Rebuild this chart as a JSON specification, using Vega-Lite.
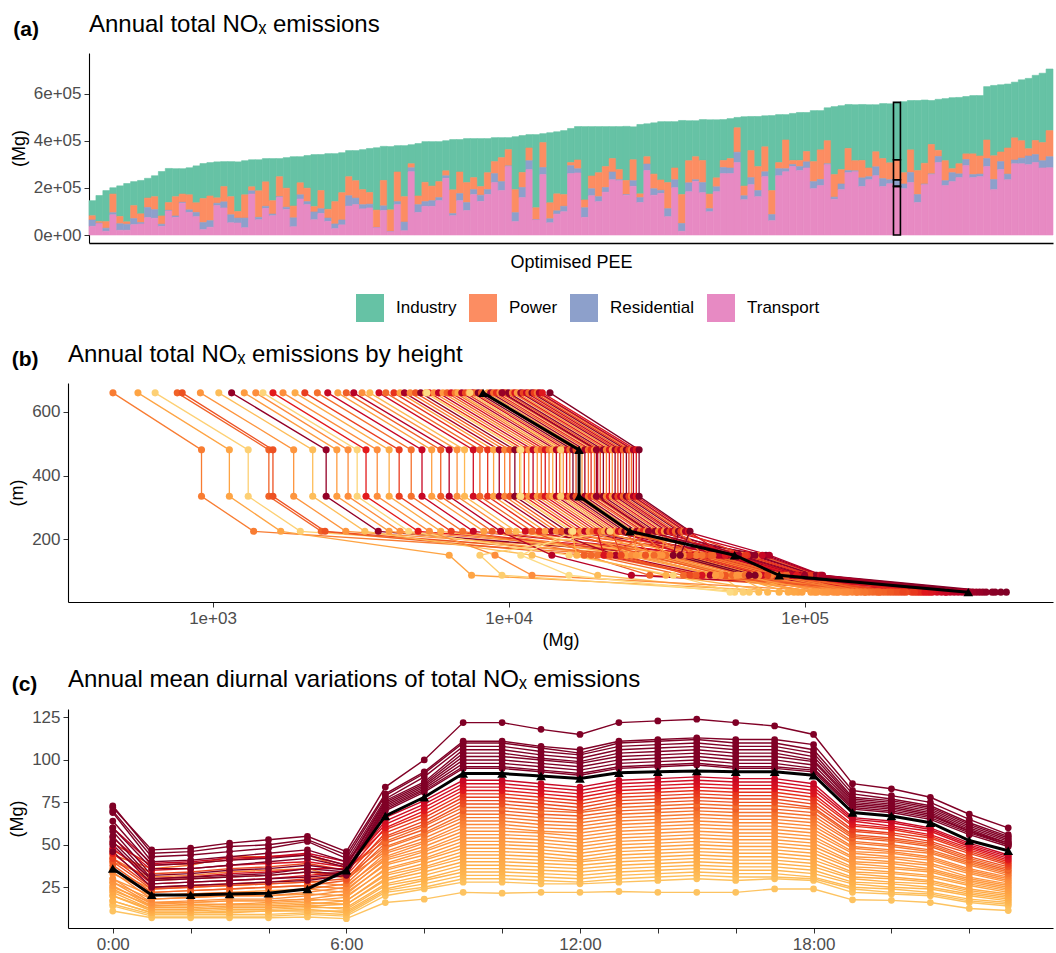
{
"$schema":"https://vega.github.io/schema/vega-lite/v6.json",
"padding":{"left":8,"top":13,"right":0,"bottom":0},
"config":{
 "font":"Liberation Sans",
 "view":{"stroke":null},
 "axis":{"grid":false,"domainColor":"#000000","domainWidth":1.1,"tickColor":"#333333","tickSize":5,"labelColor":"#4d4d4d","labelFontSize":17,"labelPadding":3,"titleFontSize":18,"titleFontWeight":"normal","titleColor":"#000000","titlePadding":5},
 "title":{"fontWeight":"normal","color":"#000000","fontSize":24}
},
"columns":1,
"spacing":21,
"resolve":{"scale":{"x":"independent","y":"independent","color":"independent","stroke":"independent"}},
"datasets":{
"bars":[
{"m":1,"I":64,"P":18,"R":27,"T":37},{"m":2,"I":111,"P":6,"R":3,"T":48},{"m":3,"I":132,"P":28,"R":13,"T":16},{"m":4,"I":27,"P":79,"R":9,"T":86},{"m":5,"I":130,"P":31,"R":28,"T":20},
{"m":6,"I":163,"P":10,"R":26,"T":20},{"m":7,"I":102,"P":55,"R":26,"T":44},{"m":8,"I":142,"P":37,"R":6,"T":47},{"m":9,"I":84,"P":40,"R":43,"T":74},{"m":10,"I":89,"P":55,"R":37,"T":71},
{"m":11,"I":189,"P":35,"R":9,"T":37},{"m":12,"I":145,"P":33,"R":3,"T":102},{"m":13,"I":119,"P":82,"R":6,"T":75},{"m":14,"I":108,"P":35,"R":4,"T":135},{"m":15,"I":115,"P":64,"R":11,"T":96},
{"m":16,"I":157,"P":41,"R":18,"T":78},{"m":17,"I":149,"P":102,"R":30,"T":23},{"m":18,"I":142,"P":105,"R":28,"T":33},{"m":19,"I":153,"P":23,"R":10,"T":125},{"m":20,"I":106,"P":65,"R":26,"T":115},
{"m":21,"I":149,"P":77,"R":34,"T":52},{"m":22,"I":211,"P":28,"R":21,"T":51},{"m":23,"I":145,"P":99,"R":41,"T":31},{"m":24,"I":115,"P":17,"R":14,"T":174},{"m":25,"I":132,"P":113,"R":10,"T":65},
{"m":26,"I":99,"P":104,"R":9,"T":113},{"m":27,"I":179,"P":57,"R":7,"T":82},{"m":28,"I":77,"P":85,"R":3,"T":160},{"m":29,"I":130,"P":81,"R":9,"T":109},{"m":30,"I":210,"P":50,"R":38,"T":35},
{"m":31,"I":111,"P":51,"R":18,"T":153},{"m":32,"I":139,"P":57,"R":13,"T":129},{"m":33,"I":221,"P":23,"R":33,"T":65},{"m":34,"I":153,"P":77,"R":21,"T":91},{"m":35,"I":237,"P":37,"R":14,"T":58},
{"m":36,"I":204,"P":95,"R":20,"T":27},{"m":37,"I":170,"P":116,"R":21,"T":43},{"m":38,"I":111,"P":81,"R":44,"T":123},{"m":39,"I":128,"P":74,"R":28,"T":129},{"m":40,"I":170,"P":64,"R":18,"T":111},
{"m":41,"I":187,"P":50,"R":16,"T":115},{"m":42,"I":265,"P":74,"R":1,"T":31},{"m":43,"I":145,"P":108,"R":20,"T":104},{"m":44,"I":269,"P":92,"R":1,"T":14},{"m":45,"I":112,"P":126,"R":13,"T":129},
{"m":46,"I":217,"P":108,"R":37,"T":18},{"m":47,"I":81,"P":17,"R":17,"T":269},{"m":48,"I":223,"P":37,"R":33,"T":96},{"m":49,"I":173,"P":82,"R":20,"T":122},{"m":50,"I":189,"P":62,"R":24,"T":122},
{"m":51,"I":170,"P":68,"R":13,"T":146},{"m":52,"I":128,"P":21,"R":11,"T":241},{"m":53,"I":214,"P":101,"R":9,"T":82},{"m":54,"I":138,"P":92,"R":30,"T":146},{"m":55,"I":187,"P":85,"R":34,"T":104},
{"m":56,"I":166,"P":51,"R":21,"T":172},{"m":57,"I":204,"P":37,"R":26,"T":143},{"m":58,"I":145,"P":72,"R":21,"T":172},{"m":59,"I":102,"P":51,"R":38,"T":223},{"m":60,"I":85,"P":102,"R":38,"T":189},
{"m":61,"I":51,"P":69,"R":3,"T":291},{"m":62,"I":225,"P":98,"R":38,"T":57},{"m":63,"I":157,"P":64,"R":43,"T":159},{"m":64,"I":57,"P":54,"R":38,"T":278},{"m":65,"I":311,"P":51,"R":1,"T":64},
{"m":66,"I":38,"P":106,"R":30,"T":257},{"m":67,"I":298,"P":68,"R":17,"T":52},{"m":68,"I":264,"P":72,"R":14,"T":89},{"m":69,"I":272,"P":50,"R":23,"T":99},{"m":70,"I":145,"P":13,"R":34,"T":261},
{"m":71,"I":142,"P":37,"R":18,"T":264},{"m":72,"I":312,"P":33,"R":41,"T":75},{"m":73,"I":210,"P":54,"R":30,"T":167},{"m":74,"I":196,"P":102,"R":21,"T":142},{"m":75,"I":170,"P":89,"R":20,"T":182},
{"m":76,"I":136,"P":57,"R":33,"T":235},{"m":77,"I":183,"P":43,"R":4,"T":231},{"m":78,"I":230,"P":60,"R":3,"T":169},{"m":79,"I":140,"P":89,"R":24,"T":207},{"m":80,"I":295,"P":16,"R":21,"T":138},
{"m":81,"I":140,"P":31,"R":28,"T":274},{"m":82,"I":218,"P":62,"R":28,"T":169},{"m":83,"I":248,"P":44,"R":13,"T":177},{"m":84,"I":259,"P":111,"R":34,"T":78},{"m":85,"I":197,"P":50,"R":34,"T":201},
{"m":86,"I":315,"P":123,"R":33,"T":16},{"m":87,"I":170,"P":94,"R":38,"T":184},{"m":88,"I":153,"P":98,"R":7,"T":228},{"m":89,"I":174,"P":94,"R":43,"T":180},{"m":90,"I":316,"P":62,"R":13,"T":99},
{"m":91,"I":247,"P":38,"R":21,"T":184},{"m":92,"I":174,"P":30,"R":26,"T":261},{"m":93,"I":170,"P":40,"R":24,"T":261},{"m":94,"I":44,"P":104,"R":44,"T":308},{"m":95,"I":295,"P":41,"R":17,"T":150},
{"m":96,"I":145,"P":115,"R":30,"T":214},{"m":97,"I":213,"P":102,"R":26,"T":163},{"m":98,"I":132,"P":106,"R":21,"T":248},{"m":99,"I":319,"P":102,"R":26,"T":61},{"m":100,"I":204,"P":26,"R":30,"T":252},
{"m":101,"I":108,"P":122,"R":13,"T":269},{"m":102,"I":200,"P":17,"R":9,"T":291},{"m":103,"I":204,"P":26,"R":17,"T":274},{"m":104,"I":166,"P":44,"R":26,"T":285},{"m":105,"I":217,"P":85,"R":30,"T":197},
{"m":106,"I":167,"P":126,"R":26,"T":210},{"m":107,"I":140,"P":98,"R":4,"T":299},{"m":108,"I":289,"P":96,"R":9,"T":152},{"m":109,"I":272,"P":61,"R":24,"T":193},{"m":110,"I":187,"P":94,"R":9,"T":265},
{"m":111,"I":238,"P":43,"R":4,"T":269},{"m":112,"I":238,"P":74,"R":37,"T":206},{"m":113,"I":269,"P":37,"R":13,"T":235},{"m":114,"I":200,"P":64,"R":38,"T":252},{"m":115,"I":234,"P":85,"R":34,"T":206},
{"m":116,"I":251,"P":72,"R":17,"T":218},{"m":117,"I":244,"P":85,"R":28,"T":207},{"m":118,"I":302,"P":48,"R":20,"T":197},{"m":119,"I":210,"P":96,"R":43,"T":223},{"m":120,"I":298,"P":102,"R":34,"T":138},
{"m":121,"I":269,"P":88,"R":3,"T":214},{"m":122,"I":187,"P":125,"R":3,"T":257},{"m":123,"I":217,"P":26,"R":26,"T":308},{"m":124,"I":264,"P":85,"R":21,"T":210},{"m":125,"I":302,"P":17,"R":38,"T":227},
{"m":126,"I":282,"P":43,"R":16,"T":244},{"m":127,"I":244,"P":24,"R":26,"T":295},{"m":128,"I":248,"P":88,"R":13,"T":244},{"m":129,"I":257,"P":77,"R":11,"T":248},{"m":130,"I":227,"P":79,"R":34,"T":291},
{"m":131,"I":299,"P":101,"R":43,"T":193},{"m":132,"I":286,"P":41,"R":34,"T":278},{"m":133,"I":272,"P":111,"R":24,"T":235},{"m":134,"I":237,"P":94,"R":16,"T":303},{"m":135,"I":259,"P":74,"R":24,"T":303},
{"m":136,"I":299,"P":31,"R":37,"T":299},{"m":137,"I":277,"P":60,"R":34,"T":308},{"m":138,"I":295,"P":77,"R":31,"T":285},{"m":139,"I":262,"P":111,"R":47,"T":286}
],
"hts":[{"k":"a","h":660},{"k":"b","h":481},{"k":"d","h":335},{"k":"w","h":225},{"k":"f","h":150},{"k":"e","h":87},{"k":"g","h":34}],
"prof":[
{"m":1,"c":0.55,"a":461,"b":918,"d":918,"w":1377,"f":24000,"e":42000,"g":150000},
{"m":2,"c":0.35,"a":560,"b":1140,"d":1140,"w":1700,"f":6300,"e":7500,"g":95000},
{"m":3,"c":0.1,"a":640,"b":1320,"d":1320,"w":1980,"f":31000,"e":52000,"g":62000},
{"m":4,"c":0.62,"a":760,"b":1550,"d":1550,"w":2330,"f":18000,"e":30000,"g":180000},
{"m":5,"c":0.66,"a":790,"b":1600,"d":1600,"w":2400,"f":27000,"e":60000,"g":210000},
{"m":6,"c":0.45,"a":910,"b":1880,"d":1880,"w":2820,"f":40000,"e":70000,"g":120000},
{"m":7,"c":0.2,"a":1050,"b":2180,"d":2180,"w":3270,"f":12000,"e":20000,"g":70000},
{"m":8,"c":0.95,"a":1160,"b":2420,"d":2420,"w":3630,"f":36000,"e":64000,"g":400000},
{"m":9,"c":0.4,"a":1280,"b":2630,"d":2630,"w":3950,"f":22000,"e":47000,"g":110000},
{"m":10,"c":0.5,"a":1400,"b":2870,"d":2870,"w":4300,"f":45000,"e":80000,"g":130000},
{"m":11,"c":0.08,"a":1480,"b":3080,"d":3080,"w":4600,"f":16000,"e":36000,"g":58000},
{"m":12,"c":0.75,"a":1600,"b":3300,"d":3300,"w":4950,"f":52000,"e":90000,"g":260000},
{"m":13,"c":0.5,"a":1730,"b":3600,"d":3600,"w":5400,"f":9000,"e":12000,"g":140000},
{"m":14,"c":0.3,"a":1900,"b":3950,"d":3950,"w":5900,"f":28000,"e":56000,"g":88000},
{"m":15,"c":0.7,"a":2050,"b":4270,"d":4270,"w":6400,"f":33000,"e":68000,"g":230000},
{"m":16,"c":0.58,"a":2260,"b":4690,"d":4690,"w":7000,"f":20000,"e":44000,"g":160000},
{"m":17,"c":0.82,"a":2450,"b":5100,"d":5100,"w":7600,"f":47000,"e":85000,"g":300000},
{"m":18,"c":0.38,"a":2650,"b":5500,"d":5500,"w":8250,"f":25000,"e":50000,"g":105000},
{"m":19,"c":0.63,"a":2830,"b":5900,"d":5900,"w":8800,"f":38000,"e":74000,"g":190000},
{"m":20,"c":0.86,"a":3000,"b":6300,"d":6300,"w":9400,"f":14000,"e":26000,"g":330000},
{"m":21,"c":0.48,"a":3200,"b":6700,"d":6700,"w":10000,"f":56000,"e":98000,"g":125000},
{"m":22,"c":0.22,"a":3400,"b":7100,"d":7100,"w":10600,"f":30000,"e":58000,"g":75000},
{"m":23,"c":0.8,"a":3650,"b":7600,"d":7600,"w":11400,"f":42000,"e":76000,"g":280000},
{"m":24,"c":0.6,"a":3850,"b":8000,"d":8000,"w":12000,"f":19000,"e":39000,"g":170000},
{"m":25,"c":0.72,"a":4100,"b":8500,"d":8500,"w":12700,"f":61000,"e":105000,"g":240000},
{"m":26,"c":0.36,"a":4300,"b":8900,"d":8900,"w":13300,"f":35000,"e":62000,"g":98000},
{"m":27,"c":0.9,"a":4450,"b":9300,"d":9300,"w":14000,"f":23000,"e":48000,"g":360000},
{"m":28,"c":0.52,"a":4650,"b":9700,"d":9700,"w":14500,"f":50000,"e":88000,"g":145000},
{"m":29,"c":0.65,"a":4850,"b":10100,"d":10100,"w":15100,"f":29000,"e":54000,"g":200000},
{"m":30,"c":0.97,"a":5050,"b":10500,"d":10500,"w":15800,"f":66000,"e":110000,"g":430000},
{"m":31,"c":0.26,"a":5250,"b":10900,"d":10900,"w":16300,"f":17000,"e":34000,"g":82000},
{"m":32,"c":0.74,"a":5400,"b":11300,"d":11300,"w":17000,"f":44000,"e":79000,"g":250000},
{"m":33,"c":0.5,"a":5600,"b":11700,"d":11700,"w":17500,"f":26000,"e":52000,"g":135000},
{"m":34,"c":0.84,"a":5800,"b":12100,"d":12100,"w":18100,"f":58000,"e":95000,"g":310000},
{"m":35,"c":0.42,"a":6000,"b":12500,"d":12500,"w":18700,"f":32000,"e":60000,"g":115000},
{"m":36,"c":0.62,"a":6200,"b":12900,"d":12900,"w":19300,"f":48000,"e":86000,"g":185000},
{"m":37,"c":0.78,"a":6400,"b":13300,"d":13300,"w":19900,"f":21000,"e":45000,"g":270000},
{"m":38,"c":0.56,"a":6600,"b":13700,"d":13700,"w":20500,"f":70000,"e":112000,"g":155000},
{"m":39,"c":0.33,"a":6750,"b":14100,"d":14100,"w":21100,"f":37000,"e":66000,"g":92000},
{"m":40,"c":0.87,"a":6950,"b":14500,"d":14500,"w":21700,"f":53000,"e":93000,"g":340000},
{"m":41,"c":0.68,"a":7150,"b":14900,"d":14900,"w":22300,"f":24000,"e":41000,"g":220000},
{"m":42,"c":0.49,"a":7350,"b":15300,"d":15300,"w":22900,"f":62000,"e":102000,"g":128000},
{"m":43,"c":0.81,"a":7550,"b":15700,"d":15700,"w":23500,"f":40000,"e":72000,"g":290000},
{"m":44,"c":0.6,"a":7700,"b":16100,"d":16100,"w":24100,"f":31000,"e":57000,"g":175000},
{"m":45,"c":0.99,"a":7900,"b":16500,"d":16500,"w":24700,"f":74000,"e":114000,"g":460000},
{"m":46,"c":0.66,"a":8100,"b":16900,"d":16900,"w":25300,"f":46000,"e":83000,"g":205000},
{"m":47,"c":0.4,"a":8500,"b":17700,"d":17700,"w":26500,"f":27000,"e":50000,"g":108000},
{"m":48,"c":0.91,"a":8700,"b":18100,"d":18100,"w":27100,"f":55000,"e":97000,"g":370000},
{"m":49,"c":0.59,"a":8900,"b":18600,"d":18600,"w":27900,"f":34000,"e":63000,"g":165000},
{"m":50,"c":0.73,"a":9100,"b":19000,"d":19000,"w":28500,"f":64000,"e":107000,"g":245000},
{"m":51,"c":0.51,"a":9350,"b":19500,"d":19500,"w":29200,"f":39000,"e":70000,"g":138000},
{"m":52,"c":0.85,"a":9600,"b":20000,"d":20000,"w":30000,"f":51000,"e":90000,"g":320000},
{"m":53,"c":0.64,"a":9800,"b":20400,"d":20400,"w":30600,"f":22000,"e":43000,"g":195000},
{"m":54,"c":0.96,"a":10000,"b":20900,"d":20900,"w":31300,"f":68000,"e":109000,"g":410000},
{"m":55,"c":0.54,"a":10300,"b":21400,"d":21400,"w":32100,"f":43000,"e":77000,"g":150000},
{"m":56,"c":0.77,"a":10500,"b":21900,"d":21900,"w":32800,"f":57000,"e":99000,"g":265000},
{"m":57,"c":0.44,"a":10700,"b":22400,"d":22400,"w":33600,"f":33000,"e":59000,"g":118000},
{"m":58,"c":0.92,"a":11000,"b":22900,"d":22900,"w":34300,"f":60000,"e":103000,"g":380000},
{"m":59,"c":0.69,"a":11200,"b":23400,"d":23400,"w":35100,"f":41000,"e":75000,"g":215000},
{"m":60,"c":0.82,"a":11500,"b":23900,"d":23900,"w":35800,"f":72000,"e":113000,"g":300000},
{"m":61,"c":0.61,"a":11700,"b":24400,"d":24400,"w":36600,"f":49000,"e":87000,"g":178000},
{"m":62,"c":0.98,"a":12000,"b":25000,"d":25000,"w":37500,"f":36000,"e":65000,"g":440000},
{"m":63,"c":0.71,"a":12200,"b":25500,"d":25500,"w":38200,"f":63000,"e":104000,"g":235000},
{"m":64,"c":0.57,"a":12500,"b":26000,"d":26000,"w":39000,"f":45000,"e":81000,"g":160000},
{"m":65,"c":0.88,"a":12700,"b":26400,"d":26400,"w":39600,"f":76000,"e":115000,"g":350000},
{"m":66,"c":0.76,"a":13000,"b":27000,"d":27000,"w":40500,"f":54000,"e":94000,"g":255000},
{"m":67,"c":1.0,"a":13800,"b":27600,"d":27600,"w":41000,"f":38000,"e":68000,"g":480000},
{"m":68,"c":0.12,"a":7400,"b":15000,"d":15000,"w":22000,"f":8000,"e":9500,"g":65000},
{"m":69,"c":0.04,"a":5300,"b":11000,"d":11000,"w":16500,"f":11000,"e":16000,"g":56000},
{"m":70,"c":0.94,"a":9500,"b":19800,"d":19800,"w":29700,"f":59000,"e":100000,"g":390000},
{"m":71,"sel":1,"c":0.9,"a":8200,"b":17300,"d":17300,"w":25700,"f":58000,"e":82000,"g":357000}
],
"hrs":[{"k":"h0","hr":0},{"k":"h1","hr":1},{"k":"h2","hr":2},{"k":"h3","hr":3},{"k":"h4","hr":4},{"k":"h5","hr":5},{"k":"h6","hr":6},{"k":"h7","hr":7},{"k":"h8","hr":8},{"k":"h9","hr":9},{"k":"h10","hr":10},{"k":"h11","hr":11},{"k":"h12","hr":12},{"k":"h13","hr":13},{"k":"h14","hr":14},{"k":"h15","hr":15},{"k":"h16","hr":16},{"k":"h17","hr":17},{"k":"h18","hr":18},{"k":"h19","hr":19},{"k":"h20","hr":20},{"k":"h21","hr":21},{"k":"h22","hr":22},{"k":"h23","hr":23}],
"diur":[
{"m":1,"c":0.17,"h0":11,"h1":7,"h2":7,"h3":7,"h4":7,"h5":7.5,"h6":6.5,"h7":16,"h8":18,"h9":22,"h10":21.5,"h11":22,"h12":22,"h13":22.5,"h14":22,"h15":22,"h16":22,"h17":24,"h18":24,"h19":17.6,"h20":17.3,"h21":16,"h22":12.5,"h23":11.3},
{"m":2,"c":0.18,"h0":14,"h1":8,"h2":8,"h3":8,"h4":8,"h5":9,"h6":8,"h7":20,"h8":24,"h9":28,"h10":28,"h11":27,"h12":27,"h13":28,"h14":29,"h15":30,"h16":29,"h17":30,"h18":29,"h19":22,"h20":21,"h21":20,"h22":16,"h23":14},
{"m":3,"c":0.2,"h0":15,"h1":9,"h2":9,"h3":9,"h4":9,"h5":10,"h6":9,"h7":22,"h8":25,"h9":30,"h10":30,"h11":29,"h12":28,"h13":30,"h14":31,"h15":32,"h16":31,"h17":31,"h18":30,"h19":24,"h20":22,"h21":21,"h22":17,"h23":15},
{"m":4,"c":0.22,"h0":17,"h1":10,"h2":10,"h3":11,"h4":11,"h5":12,"h6":10,"h7":23,"h8":27,"h9":32,"h10":32,"h11":31,"h12":30,"h13":32,"h14":33,"h15":34,"h16":33,"h17":33,"h18":31,"h19":25,"h20":24,"h21":22,"h22":18,"h23":16},
{"m":5,"c":0.24,"h0":17,"h1":10,"h2":10,"h3":10,"h4":11,"h5":11,"h6":11,"h7":24,"h8":29,"h9":34,"h10":34,"h11":33,"h12":32,"h13":34,"h14":35,"h15":36,"h16":35,"h17":35,"h18":33,"h19":27,"h20":25,"h21":24,"h22":20,"h23":17},
{"m":6,"c":0.26,"h0":20,"h1":12,"h2":12,"h3":13,"h4":13,"h5":14,"h6":12,"h7":26,"h8":30,"h9":36,"h10":36,"h11":35,"h12":34,"h13":36,"h14":37,"h15":38,"h16":37,"h17":37,"h18":35,"h19":28,"h20":27,"h21":25,"h22":21,"h23":18},
{"m":7,"c":0.28,"h0":20,"h1":11,"h2":11,"h3":12,"h4":12,"h5":13,"h6":13,"h7":27,"h8":32,"h9":38,"h10":38,"h11":37,"h12":36,"h13":38,"h14":39,"h15":40,"h16":39,"h17":39,"h18":37,"h19":30,"h20":28,"h21":27,"h22":22,"h23":19},
{"m":8,"c":0.3,"h0":23,"h1":14,"h2":14,"h3":15,"h4":15,"h5":16,"h6":15,"h7":29,"h8":34,"h9":40,"h10":40,"h11":39,"h12":38,"h13":40,"h14":41,"h15":42,"h16":41,"h17":41,"h18":39,"h19":31,"h20":30,"h21":28,"h22":23,"h23":20},
{"m":9,"c":0.32,"h0":22,"h1":12,"h2":12,"h3":13,"h4":13,"h5":14,"h6":15,"h7":30,"h8":36,"h9":42,"h10":42,"h11":41,"h12":40,"h13":42,"h14":43,"h15":44,"h16":43,"h17":43,"h18":41,"h19":33,"h20":31,"h21":29,"h22":24,"h23":21},
{"m":10,"c":0.34,"h0":25,"h1":16,"h2":16,"h3":17,"h4":17,"h5":18,"h6":17,"h7":32,"h8":37,"h9":44,"h10":44,"h11":43,"h12":41,"h13":44,"h14":45,"h15":46,"h16":45,"h17":45,"h18":43,"h19":34,"h20":33,"h21":31,"h22":26,"h23":22},
{"m":11,"c":0.36,"h0":24,"h1":13,"h2":13,"h3":14,"h4":14,"h5":15,"h6":17,"h7":33,"h8":39,"h9":46,"h10":46,"h11":45,"h12":43,"h13":46,"h14":47,"h15":48,"h16":47,"h17":47,"h18":45,"h19":36,"h20":34,"h21":32,"h22":27,"h23":23},
{"m":12,"c":0.38,"h0":28,"h1":18,"h2":19,"h3":20,"h4":20,"h5":21,"h6":20,"h7":35,"h8":41,"h9":48,"h10":48,"h11":47,"h12":45,"h13":48,"h14":49,"h15":50,"h16":49,"h17":49,"h18":47,"h19":37,"h20":36,"h21":34,"h22":28,"h23":24},
{"m":13,"c":0.4,"h0":26,"h1":14,"h2":15,"h3":15,"h4":16,"h5":17,"h6":19,"h7":36,"h8":42,"h9":50,"h10":50,"h11":49,"h12":47,"h13":50,"h14":51,"h15":52,"h16":51,"h17":51,"h18":49,"h19":39,"h20":37,"h21":35,"h22":29,"h23":25},
{"m":14,"c":0.42,"h0":30,"h1":20,"h2":21,"h3":22,"h4":23,"h5":24,"h6":22,"h7":38,"h8":44,"h9":52,"h10":52,"h11":51,"h12":49,"h13":52,"h14":53,"h15":54,"h16":53,"h17":53,"h18":51,"h19":40,"h20":39,"h21":36,"h22":30,"h23":26},
{"m":15,"c":0.44,"h0":28,"h1":15,"h2":16,"h3":17,"h4":17,"h5":18,"h6":21,"h7":39,"h8":46,"h9":54,"h10":54,"h11":53,"h12":51,"h13":54,"h14":55,"h15":56,"h16":55,"h17":55,"h18":53,"h19":42,"h20":40,"h21":38,"h22":31,"h23":27},
{"m":16,"c":0.46,"h0":33,"h1":22,"h2":23,"h3":24,"h4":25,"h5":26,"h6":24,"h7":41,"h8":47,"h9":56,"h10":56,"h11":55,"h12":53,"h13":56,"h14":57,"h15":58,"h16":57,"h17":57,"h18":55,"h19":43,"h20":42,"h21":39,"h22":33,"h23":28},
{"m":17,"c":0.48,"h0":30,"h1":16,"h2":17,"h3":18,"h4":18,"h5":20,"h6":23,"h7":42,"h8":49,"h9":58,"h10":58,"h11":57,"h12":55,"h13":58,"h14":59,"h15":60,"h16":59,"h17":59,"h18":57,"h19":45,"h20":43,"h21":41,"h22":34,"h23":29},
{"m":18,"c":0.5,"h0":35,"h1":24,"h2":25,"h3":26,"h4":27,"h5":28,"h6":26,"h7":43,"h8":51,"h9":60,"h10":60,"h11":58,"h12":57,"h13":60,"h14":61,"h15":62,"h16":61,"h17":61,"h18":59,"h19":46,"h20":45,"h21":42,"h22":35,"h23":30},
{"m":19,"c":0.52,"h0":34,"h1":18,"h2":19,"h3":20,"h4":20,"h5":22,"h6":25,"h7":45,"h8":52,"h9":62,"h10":62,"h11":60,"h12":59,"h13":62,"h14":63,"h15":64,"h16":63,"h17":63,"h18":61,"h19":48,"h20":46,"h21":43,"h22":36,"h23":31},
{"m":20,"c":0.54,"h0":40,"h1":31,"h2":32,"h3":34,"h4":35,"h5":36,"h6":30,"h7":46,"h8":54,"h9":64,"h10":64,"h11":62,"h12":61,"h13":64,"h14":65,"h15":66,"h16":65,"h17":65,"h18":63,"h19":49,"h20":47,"h21":45,"h22":38,"h23":32},
{"m":21,"c":0.56,"h0":36,"h1":20,"h2":21,"h3":22,"h4":22,"h5":24,"h6":27,"h7":48,"h8":56,"h9":66,"h10":66,"h11":64,"h12":63,"h13":66,"h14":67,"h15":68,"h16":67,"h17":67,"h18":65,"h19":51,"h20":49,"h21":46,"h22":39,"h23":33},
{"m":22,"c":0.58,"h0":42,"h1":29,"h2":30,"h3":31,"h4":32,"h5":34,"h6":31,"h7":49,"h8":57,"h9":68,"h10":68,"h11":66,"h12":65,"h13":68,"h14":69,"h15":70,"h16":69,"h17":69,"h18":67,"h19":52,"h20":50,"h21":47,"h22":40,"h23":34},
{"m":23,"c":0.63,"h0":38,"h1":22,"h2":23,"h3":24,"h4":25,"h5":26,"h6":29,"h7":51,"h8":59,"h9":70,"h10":70,"h11":68,"h12":67,"h13":70,"h14":71,"h15":72,"h16":71,"h17":71,"h18":69,"h19":54,"h20":52,"h21":49,"h22":41,"h23":35},
{"m":24,"c":0.6,"h0":44,"h1":36,"h2":38,"h3":43,"h4":43,"h5":44,"h6":36,"h7":52,"h8":61,"h9":72,"h10":72,"h11":70,"h12":69,"h13":72,"h14":73,"h15":74,"h16":73,"h17":73,"h18":71,"h19":55,"h20":53,"h21":50,"h22":42,"h23":36},
{"m":25,"c":0.66,"h0":40,"h1":24,"h2":25,"h3":26,"h4":27,"h5":28,"h6":30,"h7":54,"h8":62,"h9":74,"h10":74,"h11":72,"h12":70,"h13":74,"h14":75,"h15":76,"h16":75,"h17":75,"h18":72,"h19":56,"h20":54,"h21":51,"h22":43,"h23":37},
{"m":26,"c":0.68,"h0":47,"h1":33,"h2":34,"h3":36,"h4":37,"h5":39,"h6":35,"h7":55,"h8":64,"h9":76,"h10":76,"h11":74,"h12":72,"h13":76,"h14":77,"h15":78,"h16":77,"h17":77,"h18":74,"h19":58,"h20":56,"h21":52,"h22":45,"h23":38},
{"m":27,"c":0.7,"h0":42,"h1":25,"h2":26,"h3":27,"h4":28,"h5":30,"h6":32,"h7":57,"h8":66,"h9":78,"h10":78,"h11":76,"h12":74,"h13":78,"h14":79,"h15":80,"h16":79,"h17":79,"h18":76,"h19":59,"h20":57,"h21":54,"h22":46,"h23":39},
{"m":28,"c":0.72,"h0":51,"h1":38,"h2":39,"h3":41,"h4":43,"h5":44,"h6":38,"h7":59,"h8":68,"h9":80,"h10":80,"h11":78,"h12":76,"h13":80,"h14":81,"h15":82,"h16":81,"h17":81,"h18":78,"h19":61,"h20":59,"h21":55,"h22":47,"h23":40},
{"m":29,"c":0.76,"h0":45,"h1":27,"h2":28,"h3":29,"h4":30,"h5":32,"h6":34,"h7":60,"h8":70,"h9":82,"h10":82,"h11":80,"h12":78,"h13":82,"h14":83,"h15":84,"h16":83,"h17":83,"h18":80,"h19":62,"h20":60,"h21":56,"h22":48,"h23":41},
{"m":30,"c":0.78,"h0":54,"h1":35,"h2":36,"h3":38,"h4":39,"h5":40,"h6":37,"h7":62,"h8":72,"h9":84,"h10":84,"h11":82,"h12":80,"h13":84,"h14":85,"h15":86,"h16":85,"h17":85,"h18":82,"h19":64,"h20":61,"h21":58,"h22":49,"h23":42},
{"m":31,"c":0.8,"h0":48,"h1":30,"h2":31,"h3":33,"h4":34,"h5":36,"h6":36,"h7":64,"h8":74,"h9":86,"h10":86,"h11":84,"h12":82,"h13":86,"h14":87,"h15":88,"h16":87,"h17":87,"h18":84,"h19":65,"h20":63,"h21":59,"h22":50,"h23":43},
{"m":32,"c":0.82,"h0":60,"h1":39,"h2":40,"h3":42,"h4":43,"h5":45,"h6":40,"h7":66,"h8":76,"h9":88,"h10":88,"h11":86,"h12":84,"h13":88,"h14":89,"h15":90,"h16":89,"h17":89,"h18":86,"h19":66,"h20":64,"h21":60,"h22":51,"h23":44},
{"m":33,"c":1,"h0":46,"h1":25,"h2":26,"h3":27,"h4":28,"h5":29,"h6":32,"h7":70,"h8":81,"h9":95,"h10":95,"h11":93,"h12":91,"h13":95,"h14":96,"h15":97,"h16":95,"h17":95,"h18":93,"h19":71,"h20":69,"h21":65,"h22":56,"h23":49},
{"m":34,"c":1,"h0":50,"h1":27,"h2":28,"h3":29,"h4":30,"h5":31,"h6":33,"h7":71,"h8":82,"h9":96,"h10":96,"h11":94,"h12":92,"h13":96,"h14":97,"h15":98,"h16":96,"h17":96,"h18":94,"h19":72,"h20":70,"h21":66,"h22":57,"h23":50},
{"m":35,"c":1,"h0":52,"h1":29,"h2":30,"h3":31,"h4":32,"h5":34,"h6":33,"h7":72,"h8":83,"h9":98,"h10":98,"h11":96,"h12":94,"h13":98,"h14":99,"h15":100,"h16":98,"h17":98,"h18":95,"h19":73,"h20":71,"h21":67,"h22":58,"h23":50},
{"m":36,"c":1,"h0":55,"h1":30,"h2":31,"h3":32,"h4":33,"h5":36,"h6":34,"h7":73,"h8":84,"h9":100,"h10":100,"h11":98,"h12":96,"h13":100,"h14":101,"h15":102,"h16":100,"h17":100,"h18":97,"h19":74,"h20":72,"h21":68,"h22":58,"h23":51},
{"m":37,"c":1,"h0":58,"h1":32,"h2":33,"h3":35,"h4":36,"h5":38,"h6":35,"h7":74,"h8":85,"h9":102,"h10":102,"h11":100,"h12":98,"h13":102,"h14":103,"h15":104,"h16":102,"h17":102,"h18":99,"h19":75,"h20":73,"h21":69,"h22":59,"h23":51},
{"m":38,"c":1,"h0":60,"h1":36,"h2":36,"h3":38,"h4":40,"h5":42,"h6":37,"h7":75,"h8":86,"h9":104,"h10":104,"h11":101,"h12":99,"h13":104,"h14":105,"h15":106,"h16":104,"h17":104,"h18":100,"h19":76,"h20":74,"h21":70,"h22":60,"h23":52},
{"m":39,"c":1,"h0":64,"h1":38,"h2":39,"h3":41,"h4":42,"h5":44,"h6":38,"h7":76,"h8":87,"h9":106,"h10":106,"h11":103,"h12":101,"h13":106,"h14":107,"h15":108,"h16":106,"h17":106,"h18":102,"h19":77,"h20":75,"h21":71,"h22":61,"h23":53},
{"m":40,"c":1,"h0":69,"h1":40,"h2":41,"h3":43,"h4":45,"h5":47,"h6":40,"h7":77,"h8":90,"h9":108,"h10":108,"h11":105,"h12":103,"h13":108,"h14":109,"h15":110,"h16":108,"h17":108,"h18":104,"h19":78,"h20":76,"h21":72,"h22":62,"h23":54},
{"m":41,"c":1,"h0":70,"h1":43,"h2":44,"h3":46,"h4":48,"h5":52,"h6":42,"h7":79,"h8":92,"h9":110,"h10":110,"h11":107,"h12":104,"h13":110,"h14":111,"h15":112,"h16":110,"h17":110,"h18":106,"h19":80,"h20":77,"h21":73,"h22":63,"h23":55},
{"m":42,"c":1,"h0":73,"h1":45,"h2":46,"h3":49,"h4":50,"h5":53,"h6":44,"h7":80,"h8":93,"h9":111,"h10":111,"h11":108,"h12":106,"h13":111,"h14":112,"h15":113,"h16":112,"h17":112,"h18":109,"h19":82,"h20":79,"h21":75,"h22":65,"h23":56},
{"m":43,"c":1,"h0":72,"h1":47,"h2":48,"h3":51,"h4":53,"h5":55,"h6":46,"h7":84,"h8":100,"h9":122,"h10":122,"h11":118,"h12":115,"h13":122,"h14":123,"h15":124,"h16":122,"h17":120,"h18":115,"h19":86,"h20":83,"h21":78,"h22":68,"h23":60},
{"m":44,"sel":1,"c":0.9,"h0":36,"h1":20.5,"h2":20.5,"h3":21,"h4":21.5,"h5":24,"h6":35,"h7":67,"h8":78,"h9":92,"h10":92,"h11":90.5,"h12":89,"h13":92.5,"h14":93,"h15":93.5,"h16":93,"h17":93,"h18":91,"h19":69,"h20":67,"h21":63,"h22":52.5,"h23":46.5}
]
},
"concat":[
{"title":{"text":"(a)","anchor":"start","frame":"bounds","fontSize":21,"fontWeight":"bold","offset":0,"dy":27,"dx":3},
 "vconcat":[{
  "title":{"text":"Annual total NOₓ emissions","anchor":"start","frame":"group","offset":16,"dx":21},
  "width":985,"height":190,
  "data":{"name":"bars"},
  "transform":[{"fold":["I","P","R","T"],"as":["sector","val"]}],
  "encoding":{
   "x":{"field":"m","type":"ordinal","scale":{"paddingInner":0,"paddingOuter":0,"range":[21,985]},"axis":{"title":"Optimised PEE","labels":false,"ticks":false,"titlePadding":10,"domainWidth":1.6}},
   "y":{"field":"val","type":"quantitative","stack":"zero","scale":{"domain":[-34,774],"nice":false,"zero":false},"axis":{"values":[0,200,400,600],"labelExpr":"replace(format(datum.value*1000,'.0e'),'+','+0')","title":"(Mg)","offset":-21}},
   "order":{"field":"sector","type":"ordinal","sort":"descending"}
  },
  "layer":[
   {"mark":{"type":"bar","strokeWidth":0.6},
    "encoding":{"color":{"field":"sector","type":"nominal","scale":{"domain":["I","P","R","T"],"range":["#66C2A5","#FC8D62","#8DA0CB","#E78AC3"]},
     "legend":{"orient":"none","legendX":288,"legendY":241,"direction":"horizontal","title":null,"symbolType":"square","symbolSize":784,"symbolStrokeWidth":0,"symbolOpacity":1,"labelFontSize":17,"labelColor":"#000000","labelOffset":12,"columnPadding":12,"padding":0,
      "labelExpr":"datum.label=='I'?'Industry':datum.label=='P'?'Power':datum.label=='R'?'Residential':'Transport'"}},
     "stroke":{"field":"sector","type":"nominal","scale":{"domain":["I","P","R","T"],"range":["#66C2A5","#FC8D62","#8DA0CB","#E78AC3"]},"legend":null}}},
   {"transform":[{"filter":"datum.m == 117"}],
    "mark":{"type":"bar","fillOpacity":0,"stroke":"#000000","strokeWidth":1.6},
    "encoding":{"detail":{"field":"sector"}}}
  ]
 }]
},
{"concat":[
{"title":{"text":"(b)","anchor":"start","frame":"bounds","fontSize":21,"fontWeight":"bold","offset":0,"dy":27,"dx":3},
 "vconcat":[{
  "title":{"text":"Annual total NOₓ emissions by height","anchor":"start","frame":"group","offset":16},
  "width":985,"height":219,
  "data":{"name":"prof"},
  "transform":[{"fold":["a","b","d","w","f","e","g"],"as":["k","val"]},{"lookup":"k","from":{"data":{"name":"hts"},"key":"k","fields":["h"]}}],
  "encoding":{
   "x":{"field":"val","type":"quantitative","scale":{"type":"log","domain":[325,690000],"nice":false},"axis":{"values":[1000,10000,100000],"labelExpr":"replace(format(datum.value,'.0e'),'+','+0')","title":"(Mg)"}},
   "y":{"field":"h","type":"quantitative","scale":{"domain":[3,691],"nice":false,"zero":false},"axis":{"values":[200,400,600],"title":"(m)"}},
   "order":{"field":"h","type":"quantitative"}
  },
  "layer":[
   {"transform":[{"filter":"datum.sel != 1"}],"mark":{"type":"line","strokeWidth":1.3},
    "encoding":{"color":{"field":"c","type":"quantitative","scale":{"domain":[0,0.35,0.6,0.85,1],"range":["#FEE391","#FEB24C","#FD8D3C","#E31A1C","#800026"]},"legend":null},"detail":{"field":"m"}}},
   {"transform":[{"filter":"datum.sel != 1"}],"mark":{"type":"circle","size":50,"opacity":1},
    "encoding":{"color":{"field":"c","type":"quantitative","scale":{"domain":[0,0.35,0.6,0.85,1],"range":["#FEE391","#FEB24C","#FD8D3C","#E31A1C","#800026"]},"legend":null}}},
   {"transform":[{"filter":"datum.sel == 1"}],"mark":{"type":"line","strokeWidth":3,"color":"#000000"},"encoding":{"detail":{"field":"m"}}},
   {"transform":[{"filter":"datum.sel == 1"}],"mark":{"type":"point","shape":"triangle-up","filled":true,"size":95,"color":"#000000","opacity":1},"encoding":{}}
  ]
 }]
},
{"title":{"text":"(c)","anchor":"start","frame":"bounds","fontSize":21,"fontWeight":"bold","offset":0,"dy":27,"dx":3},
 "vconcat":[{
  "title":{"text":"Annual mean diurnal variations of total NOₓ emissions","anchor":"start","frame":"group","offset":16},
  "width":985,"height":219,
  "data":{"name":"diur"},
  "transform":[{"fold":["h0","h1","h2","h3","h4","h5","h6","h7","h8","h9","h10","h11","h12","h13","h14","h15","h16","h17","h18","h19","h20","h21","h22","h23"],"as":["k","val"]},{"lookup":"k","from":{"data":{"name":"hrs"},"key":"k","fields":["hr"]}}],
  "encoding":{
   "x":{"field":"hr","type":"quantitative","scale":{"domain":[-1.15,24.15],"nice":false,"zero":false},"axis":{"values":[0,2,4,6,8,10,12,14,16,18,20,22],"labelExpr":"datum.value % 6 == 0 ? datum.value + ':00' : ''","title":null}},
   "y":{"field":"val","type":"quantitative","scale":{"domain":[1,130],"nice":false,"zero":false},"axis":{"values":[25,50,75,100,125],"title":"(Mg)"}}
  },
  "layer":[
   {"transform":[{"filter":"datum.sel != 1"}],"mark":{"type":"line","strokeWidth":1.4},
    "encoding":{"color":{"field":"c","type":"quantitative","scale":{"domain":[0.17,0.38,0.56,0.82,1],"range":["#FEE391","#FEC44F","#FD8D3C","#E31A1C","#800026"]},"legend":null},"detail":{"field":"m"}}},
   {"transform":[{"filter":"datum.sel != 1"}],"mark":{"type":"circle","size":46,"opacity":1},
    "encoding":{"color":{"field":"c","type":"quantitative","scale":{"domain":[0.17,0.38,0.56,0.82,1],"range":["#FEE391","#FEC44F","#FD8D3C","#E31A1C","#800026"]},"legend":null}}},
   {"transform":[{"filter":"datum.sel == 1"}],"mark":{"type":"line","strokeWidth":3,"color":"#000000"},"encoding":{"detail":{"field":"m"}}},
   {"transform":[{"filter":"datum.sel == 1"}],"mark":{"type":"point","shape":"triangle-up","filled":true,"size":95,"color":"#000000","opacity":1},"encoding":{}}
  ]
 }]
}
],"columns":1,"spacing":19}
]
}
